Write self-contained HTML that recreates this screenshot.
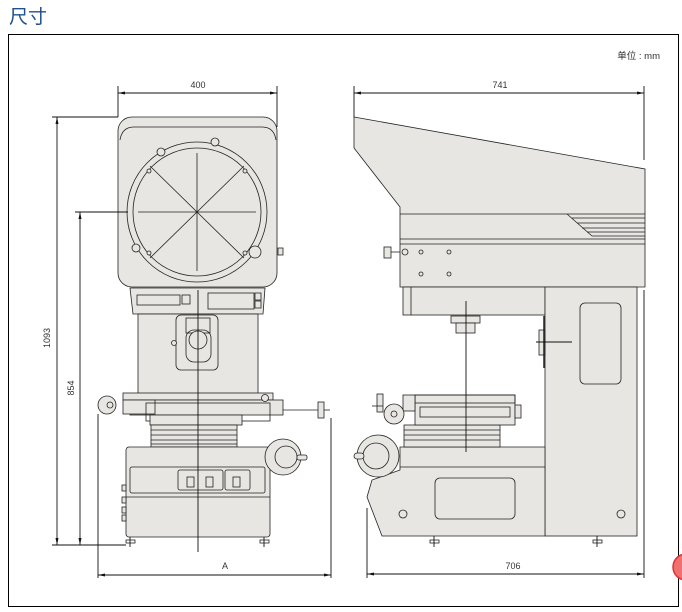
<!DOCTYPE html>
<html><head><meta charset="utf-8"><style>
html,body{margin:0;padding:0;background:#fff;width:682px;height:612px;overflow:hidden}
svg text{font-family:"Liberation Sans","Noto Sans CJK SC",sans-serif}
</style></head><body>
<svg width="682" height="612" viewBox="0 0 682 612" xmlns="http://www.w3.org/2000/svg">
<text x="9" y="23" font-size="19" fill="#1f4f8f">尺寸</text>
<rect x="8.5" y="34.5" width="670" height="572" fill="none" stroke="#000" stroke-width="1"/>
<text x="660" y="59" font-size="9.5" fill="#333" text-anchor="end">单位 : mm</text>
<g stroke="#222" stroke-width="0.8" fill="#e8e6e2">
<!-- FRONT head -->
<rect x="118" y="117" width="159" height="170" rx="14"/>
<path d="M120 140 Q122 127 134 127 L262 127 Q274 127 276 140" fill="none"/>
<circle cx="197" cy="212" r="70"/>
<circle cx="197" cy="212" r="64"/>
<line x1="197" y1="153" x2="197" y2="271"/><line x1="138" y1="212" x2="256" y2="212"/>
<line x1="150" y1="166" x2="244" y2="258"/><line x1="244" y1="166" x2="150" y2="258"/>
<circle cx="161" cy="152" r="4"/><circle cx="215" cy="142" r="4"/><circle cx="136" cy="248" r="4"/><circle cx="255" cy="252" r="6"/>
<circle cx="149" cy="171" r="2"/><circle cx="245" cy="171" r="2"/><circle cx="149" cy="253" r="2"/><circle cx="245" cy="253" r="2"/>
<rect x="278" y="248" width="5" height="7"/>
<!-- display -->
<path d="M130 288 L265 288 L263 314 L133 314 Z"/>
<rect x="137" y="295" width="43" height="10" fill="none"/><rect x="182" y="295" width="8" height="9" fill="none"/>
<rect x="208" y="293" width="46" height="16" fill="none"/><rect x="255" y="293" width="6" height="7" fill="none"/><rect x="255" y="301" width="6" height="7" fill="none"/>
<!-- column -->
<rect x="138" y="314" width="120" height="80"/>
<rect x="176" y="315" width="42" height="55" rx="5"/>
<rect x="186" y="318" width="24" height="15"/>
<circle cx="198" cy="340" r="9"/><rect x="186" y="330" width="25" height="32" rx="8" fill="none"/>
<circle cx="174" cy="343" r="2.5"/>
<!-- stage -->
<rect x="123" y="393" width="150" height="7"/>
<rect x="130" y="400" width="153" height="15"/>
<rect x="123" y="400" width="32" height="14"/>
<rect x="146" y="403" width="124" height="18" fill="none"/>
<rect x="150" y="415" width="92" height="10"/>
<line x1="283" y1="410" x2="320" y2="410"/><rect x="318" y="402" width="6" height="16"/><line x1="324" y1="410" x2="330" y2="410"/>
<circle cx="265" cy="398" r="3.5"/>
<circle cx="107" cy="405" r="9"/><circle cx="110" cy="405" r="3" fill="none"/>
<!-- bellows -->
<rect x="151" y="425" width="86" height="22"/>
<line x1="151" y1="430" x2="237" y2="430"/><line x1="151" y1="435" x2="237" y2="435"/><line x1="151" y1="440" x2="237" y2="440"/><line x1="151" y1="444" x2="237" y2="444"/>
<!-- base -->
<rect x="126" y="447" width="144" height="90" rx="3"/>
<rect x="130" y="467" width="135" height="26" rx="2"/>
<line x1="126" y1="497" x2="270" y2="497"/>
<rect x="178" y="470" width="45" height="20" rx="2"/><rect x="225" y="470" width="25" height="20" rx="2"/>
<rect x="187" y="477" width="7" height="10"/><rect x="206" y="477" width="7" height="10"/><rect x="233" y="477" width="7" height="10"/>
<rect x="122" y="485" width="4" height="6"/><rect x="122" y="497" width="4" height="6"/><rect x="122" y="507" width="4" height="6"/><rect x="122" y="515" width="4" height="6"/>
<circle cx="283" cy="457" r="18"/><circle cx="286" cy="457" r="11"/><rect x="297" y="455" width="10" height="5" rx="2"/>
<!-- SIDE -->
<path d="M354 117 L645 169 L645 287 L400 287 L400 207 L354 148 Z"/>
<line x1="400" y1="214" x2="645" y2="214"/><line x1="400" y1="239" x2="645" y2="239"/><line x1="400" y1="244" x2="645" y2="244"/>
<line x1="567" y1="214" x2="592" y2="236"/>
<line x1="572" y1="218" x2="645" y2="218"/><line x1="577" y1="223" x2="645" y2="223"/><line x1="582" y1="228" x2="645" y2="228"/><line x1="587" y1="232" x2="645" y2="232"/><line x1="592" y1="236" x2="645" y2="236"/>
<rect x="384" y="247" width="7" height="11"/><line x1="391" y1="252" x2="400" y2="252"/><circle cx="405" cy="252" r="3"/>
<circle cx="421" cy="252" r="2"/><circle cx="449" cy="252" r="2"/><circle cx="421" cy="274" r="2"/><circle cx="449" cy="274" r="2"/>
<rect x="403" y="287" width="142" height="28"/><line x1="411" y1="287" x2="411" y2="315"/>
<rect x="451" y="316" width="29" height="7"/><rect x="456" y="323" width="19" height="10"/>
<rect x="545" y="287" width="92" height="249"/>
<rect x="580" y="303" width="41" height="81" rx="5"/>
<rect x="539" y="330" width="6" height="25"/><line x1="544" y1="316" x2="544" y2="368" stroke-width="1.5"/>
<!-- side base -->
<path d="M400 447 L545 447 L545 536 L382 536 L367 497 L372 480 L400 470 Z"/>
<line x1="400" y1="467" x2="545" y2="467"/>
<rect x="435" y="478" width="80" height="41" rx="5"/>
<circle cx="403" cy="514" r="4"/><circle cx="621" cy="514" r="4"/>
<circle cx="378" cy="456" r="21"/><circle cx="376" cy="456" r="13"/><rect x="354" y="453" width="10" height="6" rx="3"/>
<!-- side stage -->
<rect x="404" y="425" width="96" height="22"/>
<line x1="404" y1="430" x2="500" y2="430"/><line x1="404" y1="435" x2="500" y2="435"/><line x1="404" y1="440" x2="500" y2="440"/>
<rect x="415" y="395" width="100" height="30"/><rect x="415" y="395" width="100" height="8" fill="none"/><rect x="420" y="407" width="90" height="10" fill="none"/>
<rect x="515" y="405" width="6" height="13"/><rect x="403" y="395" width="12" height="16"/>
<circle cx="394" cy="414" r="10"/><circle cx="394" cy="414" r="3" fill="none"/>
<rect x="377" y="394" width="6" height="18"/><line x1="372" y1="406" x2="383" y2="406"/>
<!-- feet -->
<g fill="#fff"><rect x="126" y="540" width="9" height="3"/><rect x="260" y="540" width="9" height="3"/><rect x="430" y="540" width="9" height="3"/><rect x="593" y="540" width="9" height="3"/></g>
</g>
<g stroke="#111" stroke-width="0.9">
<line x1="130" y1="537" x2="130" y2="547"/><line x1="264" y1="537" x2="264" y2="547"/><line x1="434" y1="536" x2="434" y2="547"/><line x1="597" y1="536" x2="597" y2="547"/>
<!-- centerlines -->
<line x1="198" y1="290" x2="198" y2="552"/><line x1="466" y1="301" x2="466" y2="452"/><line x1="536" y1="342" x2="572" y2="342"/>
<!-- dims -->
<line x1="118" y1="86" x2="118" y2="117"/><line x1="277" y1="86" x2="277" y2="127"/><line x1="118" y1="93" x2="277" y2="93"/>
<line x1="354" y1="86" x2="354" y2="117"/><line x1="644" y1="86" x2="644" y2="160"/><line x1="354" y1="93" x2="644" y2="93"/>
<line x1="52" y1="117" x2="118" y2="117"/><line x1="57" y1="117" x2="57" y2="545"/><line x1="52" y1="545" x2="126" y2="545"/>
<line x1="75" y1="212" x2="128" y2="212"/><line x1="80" y1="212" x2="80" y2="545"/>
<line x1="98" y1="414" x2="98" y2="578"/><line x1="331" y1="418" x2="331" y2="578"/><line x1="98" y1="575" x2="331" y2="575"/>
<line x1="367" y1="508" x2="367" y2="578"/><line x1="644" y1="290" x2="644" y2="578"/><line x1="367" y1="574" x2="644" y2="574"/>
</g>
<g fill="#111">
<path d="M118 93 l7 -1.5 v3z"/><path d="M277 93 l-7 -1.5 v3z"/><path d="M354 93 l7 -1.5 v3z"/><path d="M644 93 l-7 -1.5 v3z"/>
<path d="M57 117 l-1.5 7 h3z"/><path d="M57 545 l-1.5 -7 h3z"/><path d="M80 212 l-1.5 7 h3z"/><path d="M80 545 l-1.5 -7 h3z"/>
<path d="M98 575 l7 -1.5 v3z"/><path d="M331 575 l-7 -1.5 v3z"/><path d="M367 574 l7 -1.5 v3z"/><path d="M644 574 l-7 -1.5 v3z"/>
</g>
<g font-size="9" fill="#333" text-anchor="middle">
<text x="198" y="88">400</text><text x="500" y="88">741</text>
<text x="225" y="569">A</text><text x="513" y="569">706</text>
<text transform="translate(50,338) rotate(-90)">1093</text>
<text transform="translate(74,388) rotate(-90)">854</text>
</g>
<circle cx="686" cy="567" r="13" fill="#f07070" stroke="#d33" stroke-width="1.5"/>
</svg>
</body></html>
